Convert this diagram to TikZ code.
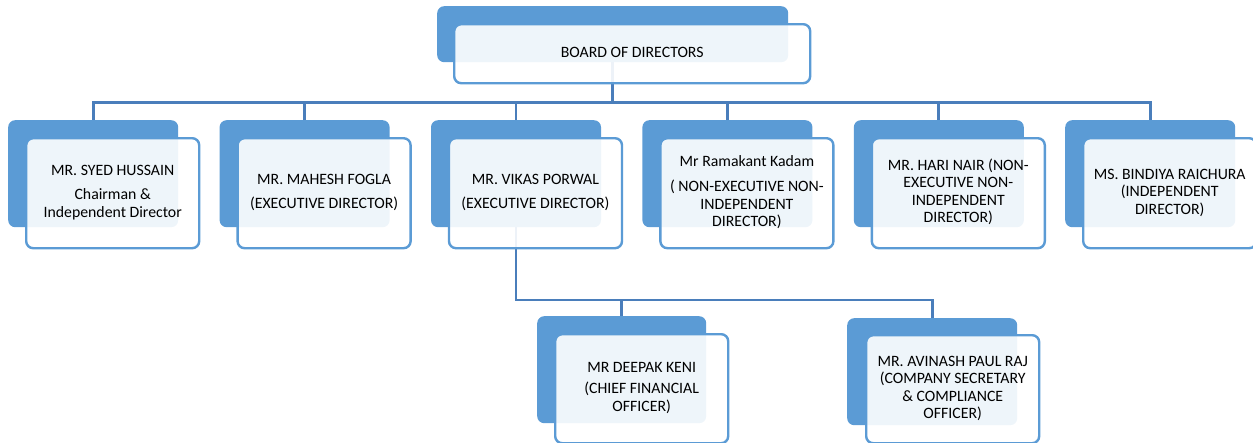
\documentclass[tikz,border=0pt]{standalone}
\usepackage{fontspec}
\setmainfont{Carlito}
\definecolor{backblue}{RGB}{91,155,213}
\definecolor{edgeblue}{RGB}{91,155,213}
\definecolor{connblue}{RGB}{74,126,187}
\tikzset{
  back/.style={rectangle, rounded corners=7pt, fill=backblue, draw=none, inner sep=0pt,
    minimum width=170pt, minimum height=107pt, anchor=north west},
  front/.style={rectangle, rounded corners=7pt, draw=edgeblue, line width=2.4pt,
    fill=white, fill opacity=0.9, text opacity=1, inner sep=2pt, align=center,
    font=\fontsize{15.8}{17.5}\selectfont, text=black,
    minimum width=173pt, minimum height=110pt, anchor=north west},
  conn/.style={draw=connblue, line width=2.8pt}
}
\begin{document}
\begin{tikzpicture}[x=1pt,y=-1pt]
\useasboundingbox (0,0) rectangle (1253,442);
% coordinates of the buses
\coordinate (busA) at (0,102.5);
\coordinate (busB) at (0,300);
% back shapes
\node[back, minimum width=351pt, minimum height=56pt] (bb) at (437,6) {};
\node[back] (b1) at (8,120) {};
\node[back] (b2) at (219.4,120) {};
\node[back] (b3) at (430.8,120) {};
\node[back] (b4) at (642.2,120) {};
\node[back] (b5) at (853.6,120) {};
\node[back] (b6) at (1065,120) {};
\node[back, minimum width=169pt] (b7) at (537,316) {};
\node[back] (b8) at (847,318) {};
% connectors
\draw[conn] (bb.south) -- (bb.south |- busA) -| (b1.north);
\draw[conn] (bb.south) -- (bb.south |- busA) -| (b2.north);
\draw[conn] (bb.south) -- (bb.south |- busA) -| (b3.north);
\draw[conn] (bb.south) -- (bb.south |- busA) -| (b4.north);
\draw[conn] (bb.south) -- (bb.south |- busA) -| (b5.north);
\draw[conn] (bb.south) -- (bb.south |- busA) -| (b6.north);
\draw[conn] (b3.south) -- (b3.south |- busB) -| (b7.north);
\draw[conn] (b3.south) -- (b3.south |- busB) -| (b8.north);
% front boxes with text
\node[front, minimum width=356pt, minimum height=59pt] (fb) at (453,23) {\strut BOARD OF DIRECTORS\strut};
\node[front] (f1) at (25,137) {\strut MR. SYED HUSSAIN\\[6.5pt]Chairman \&\\Independent Director\strut};
\node[front] (f2) at (236.4,137) {\strut MR. MAHESH FOGLA\\[6.5pt](EXECUTIVE DIRECTOR)\strut};
\node[front] (f3) at (447.8,137) {\strut MR. VIKAS PORWAL\\[6.5pt](EXECUTIVE DIRECTOR)\strut};
\node[front] (f4) at (659.2,137) {\strut Mr Ramakant Kadam\\[7.5pt]( NON-EXECUTIVE NON-\\INDEPENDENT\\DIRECTOR)\strut};
\node[front] (f5) at (870.6,137) {\strut MR. HARI NAIR (NON-\\EXECUTIVE NON-\\INDEPENDENT\\DIRECTOR)\strut};
\node[front] (f6) at (1082,137) {\strut MS. BINDIYA RAICHURA\\(INDEPENDENT\\DIRECTOR)\strut};
\node[front, minimum height=109pt] (f7) at (554,333) {\strut MR DEEPAK KENI\\[3.5pt](CHIEF FINANCIAL\\OFFICER)\strut};
\node[front, minimum height=108pt] (f8) at (865,334) {\strut MR. AVINASH PAUL RAJ\\(COMPANY SECRETARY\\\& COMPLIANCE\\OFFICER)\strut};
\end{tikzpicture}
\end{document}
